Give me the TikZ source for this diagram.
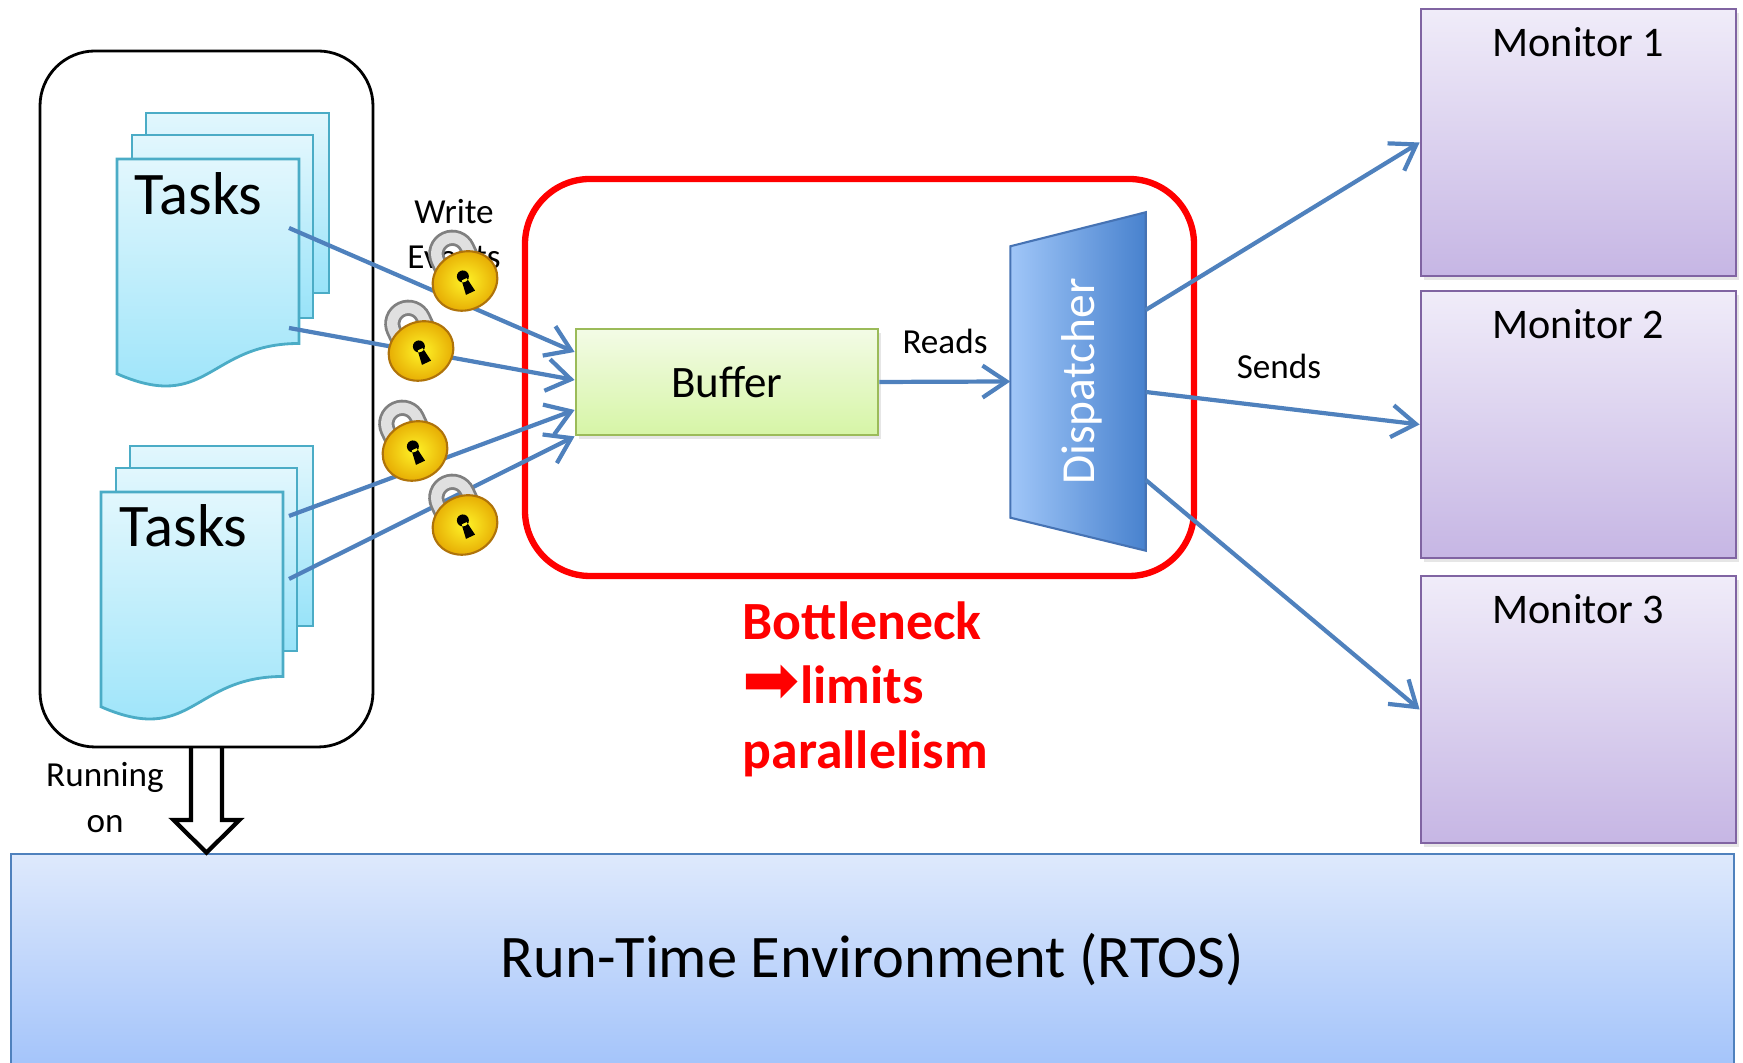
\documentclass[tikz,border=0pt]{standalone}
\usepackage{fontspec}
\setmainfont{Carlito}
\newfontfamily\arrowfont{DejaVu Sans}
\usetikzlibrary{arrows.meta,shadows}

\definecolor{linkblue}{RGB}{79,129,189}
\definecolor{sheetedge}{RGB}{75,172,198}
\definecolor{sheettop}{RGB}{226,247,253}
\definecolor{sheetbot}{RGB}{152,227,249}
\definecolor{bufedge}{RGB}{155,187,89}
\definecolor{buftop}{RGB}{243,251,230}
\definecolor{bufbot}{RGB}{214,245,166}
\definecolor{displeft}{RGB}{160,198,248}
\definecolor{dispright}{RGB}{72,130,206}
\definecolor{dispedge}{RGB}{70,115,180}
\definecolor{monedge}{RGB}{128,100,162}
\definecolor{montop}{RGB}{240,236,249}
\definecolor{monbot}{RGB}{198,182,228}
\definecolor{rtostop}{RGB}{222,233,252}
\definecolor{rtosbot}{RGB}{164,196,250}
\definecolor{lockgold}{RGB}{228,165,0}
\definecolor{lockhi}{RGB}{255,244,40}
\definecolor{lockrim}{RGB}{175,115,10}

\tikzset{
  conn/.style={draw=linkblue, line width=1.2pt, -{Straight Barb[length=2.4mm,width=3.2mm]}},
  sheet/.style={draw=sheetedge, line width=0.8pt, top color=sheettop, bottom color=sheetbot},
  hostbox/.style={draw, line width=0.8pt, rounded corners=0.55cm, minimum width=3.33cm, minimum height=6.96cm},
  tasklabel/.style={inner sep=0pt, font=\fontsize{17.2}{20}\selectfont},
  smalltext/.style={align=center, inner sep=0pt, font=\fontsize{10}{13}\selectfont},
  bufferbox/.style={draw=bufedge, line width=0.8pt, top color=buftop, bottom color=bufbot,
    minimum width=3.02cm, minimum height=1.06cm, font=\fontsize{12.8}{15}\selectfont,
    drop shadow={opacity=0.2, shadow xshift=0.03cm, shadow yshift=-0.04cm}},
  dispbox/.style={draw=dispedge, line width=0.6pt, left color=displeft, right color=dispright},
  monbox/.style={draw=monedge, line width=0.8pt, top color=montop, bottom color=monbot,
    minimum width=3.15cm, inner sep=0pt, text height=0.475cm, text depth=2.195cm,
    font=\fontsize{12}{14}\selectfont,
    drop shadow={opacity=0.2, shadow xshift=0.03cm, shadow yshift=-0.04cm}},
  rtosbox/.style={draw=linkblue, line width=0.8pt, top color=rtostop, bottom color=rtosbot,
    minimum width=17.23cm, minimum height=2.12cm, font=\fontsize{17.2}{20}\selectfont},
  redframe/.style={draw=red, line width=1.8pt, rounded corners=0.65cm, minimum width=6.69cm, minimum height=3.97cm},
  redtext/.style={align=left, inner sep=0pt, text=red, font=\fontsize{15.3}{18.3}\selectfont\bfseries},
  hollow/.style={draw, line width=1.2pt, fill=white, line join=miter},
  padlock/.pic={
    \draw[line width=4.6pt, black!50] (-0.16,0) -- (-0.16,0.30) arc[start angle=180, end angle=0, radius=0.16] -- (0.16,0);
    \draw[line width=3pt, black!12] (-0.16,0) -- (-0.16,0.30) arc[start angle=180, end angle=0, radius=0.16] -- (0.16,0);
    \shade[draw=lockrim, line width=0.6pt, inner color=lockhi, outer color=lockgold] (0,0) ellipse [x radius=0.33, y radius=0.29];
    \fill (0,0.05) circle [radius=0.06] (-0.028,0.02) -- (0.028,0.02) -- (0.05,-0.13) -- (-0.05,-0.13) -- cycle;
  }
}

% three stacked task sheets, #1 = top left corner of the front one
\newcommand{\taskstack}[1]{
  \begin{scope}[shift={#1}]
    \draw[sheet] (0.29,0.46) rectangle (2.12,-1.34);
    \draw[sheet] (0.15,0.24) rectangle (1.96,-1.59);
    \draw[sheet] (0,0) -- (1.82,0) -- (1.82,-1.845) .. controls (0.91,-1.845) and (0.91,-2.546) .. (0,-2.148) -- cycle;
  \end{scope}}

\begin{document}
\begin{tikzpicture}
  \useasboundingbox (0,0) rectangle (17.43,10.63);

  \node[rtosbox] (rtos) at (8.725,1.03) {Run-Time Environment (RTOS)};

  % tasks running on the RTOS
  \coordinate (hostbot) at (2.065,3.16);
  \draw[hollow] ([xshift=-1.55mm]hostbot) -- ++(0,-0.73) -- ++(-0.175,0) -- (hostbot |- rtos.north)
    -- ([xshift=3.3mm,yshift=-7.3mm]hostbot) -- ++(-0.175,0) -- ([xshift=1.55mm]hostbot);
  \node[hostbox] (host) at (2.065,6.64) {};
  \taskstack{(1.17,9.04)}
  \taskstack{(1.01,5.71)}
  \node[tasklabel, anchor=base west] (tasksA) at (1.34,8.485) {Tasks};
  \node[tasklabel, anchor=base west] (tasksB) at (1.19,5.16) {Tasks};
  \node[smalltext] (runon) at (1.05,2.655) {Running\\on};
  \node[smalltext] (write) at (4.54,8.29) {Write\\Events};

  \coordinate (wA1) at (2.89,8.35);
  \coordinate (wA2) at (2.89,7.35);
  \coordinate (wB1) at (2.89,5.47);
  \coordinate (wB2) at (2.89,4.84);

  % buffer and dispatcher
  \node[redframe] (neck) at (8.595,6.855) {};
  \node[bufferbox] (buffer) at (7.27,6.81) {Buffer};
  \node[minimum width=1.34cm, minimum height=3.37cm, inner sep=0pt] (disp) at (10.78,6.815) {};
  \path[dispbox] (disp.north east) -- (disp.south east) -- ([yshift=0.33cm]disp.south west)
    -- ([yshift=-0.34cm]disp.north west) -- cycle;
  \node[rotate=90, text=white, font=\fontsize{13.5}{16}\selectfont] (displabel) at ([xshift=0.04cm]disp.center) {Dispatcher};

  \node[monbox] (mon1) at (15.785,9.205) {Monitor 1};
  \node[monbox] (mon2) at (15.785,6.385) {Monitor 2};
  \node[monbox] (mon3) at (15.785,3.535) {Monitor 3};

  \draw[conn] (wA1) -- ([yshift=0.30cm]buffer.west);
  \draw[conn] (wA2) -- ([yshift=0.02cm]buffer.west);
  \draw[conn] (wB1) -- ([yshift=-0.28cm]buffer.west);
  \draw[conn] (wB2) -- (buffer.south west);
  \draw[conn] (buffer.east) -- (disp.west);
  \draw[conn] ([yshift=0.715cm]disp.east) -- (mon1.west);
  \draw[conn] ([yshift=-0.105cm]disp.east) -- (mon2.west);
  \draw[conn] ([yshift=-0.985cm]disp.east) -- (mon3.west);
  \node[smalltext] (reads) at (9.45,7.22) {Reads};
  \node[smalltext] (sends) at (12.79,6.97) {Sends};

  % locks on the write paths
  \pic[rotate=25] at (4.65,7.82) {padlock};
  \pic[rotate=25] at (4.21,7.12) {padlock};
  \pic[rotate=25] at (4.15,6.12) {padlock};
  \pic[rotate=25] at (4.65,5.38) {padlock};

  \node[redtext, anchor=north west] (limit) at (7.42,4.62) {Bottleneck\\{\arrowfont\mdseries\fontsize{19.5}{18.3}\selectfont ➡}limits\\parallelism};
\end{tikzpicture}
\end{document}
